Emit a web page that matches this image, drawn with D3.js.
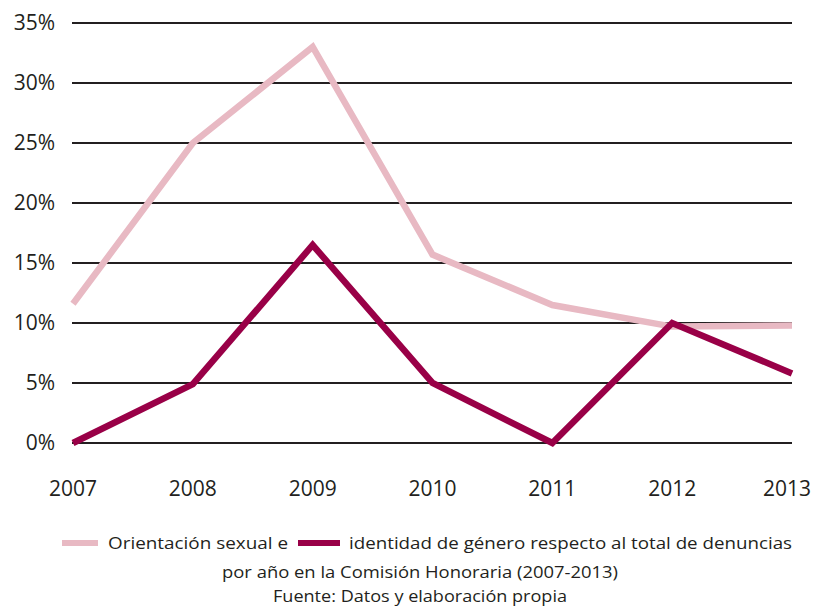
<!DOCTYPE html>
<html>
<head>
<meta charset="utf-8">
<script src="https://d3js.org/d3.v7.min.js"></script>
<style>
  body { margin: 0; background: #fff; }
  text { font-family: "Open Sans", sans-serif; fill: #231f20; }
</style>
</head>
<body>
<div id="chart"></div>
<script>
const years = ["2007","2008","2009","2010","2011","2012","2013"];
const orientacion = [11.6, 25.0, 33.0, 15.7, 11.5, 9.7, 9.8];
const identidad = [0, 4.9, 16.5, 5.0, 0, 10.0, 5.8];
const yTicks = [0, 5, 10, 15, 20, 25, 30, 35];
const legendLabels = ["Orientación sexual e", "identidad de género respecto al total de denuncias"];
const captionLines = ["por año en la Comisión Honoraria (2007-2013)", "Fuente: Datos y elaboración propia"];

const width = 814, height = 608;
const margin = {top: 23, right: 22, bottom: 165, left: 73};

const svg = d3.select("#chart").append("svg")
  .attr("width", width)
  .attr("height", height);

const x = d3.scalePoint()
  .domain(years)
  .range([margin.left, width - margin.right]);

const y = d3.scaleLinear()
  .domain([0, 35])
  .range([height - margin.bottom, margin.top]);

// gridlines
svg.append("g")
  .selectAll("line")
  .data(yTicks)
  .enter().append("line")
    .attr("x1", margin.left - 1)
    .attr("x2", width - margin.right)
    .attr("y1", d => y(d))
    .attr("y2", d => y(d))
    .attr("stroke", "#231f20")
    .attr("stroke-width", 2);

// y labels
svg.append("g")
  .selectAll("text")
  .data(yTicks)
  .enter().append("text")
    .attr("x", 55)
    .attr("y", d => y(d) + 7)
    .attr("text-anchor", "end")
    .style("font-size", "21px")
    .text(d => d + "%");

// x labels (last one kept inside the right edge)
svg.append("g")
  .selectAll("text")
  .data(years)
  .enter().append("text")
    .attr("x", (d, i) => i === years.length - 1 ? width - 3 : x(d))
    .attr("y", 496)
    .attr("text-anchor", (d, i) => i === years.length - 1 ? "end" : "middle")
    .style("font-size", "21px")
    .text(d => d);

const line = d3.line()
  .x((d, i) => x(years[i]))
  .y(d => y(d));

svg.append("path")
  .datum(orientacion)
  .attr("fill", "none")
  .attr("stroke", "#e8b9c3")
  .attr("stroke-width", 6.5)
  .attr("d", line);

svg.append("path")
  .datum(identidad)
  .attr("fill", "none")
  .attr("stroke", "#990047")
  .attr("stroke-width", 6.5)
  .attr("d", line);

// legend
const legY = 543;
svg.append("line")
  .attr("x1", 62).attr("x2", 98)
  .attr("y1", legY).attr("y2", legY)
  .attr("stroke", "#e8b9c3").attr("stroke-width", 6);
svg.append("text")
  .attr("x", 108).attr("y", legY + 6)
  .style("font-size", "17px")
  .attr("textLength", 180).attr("lengthAdjust", "spacingAndGlyphs")
  .text(legendLabels[0]);
svg.append("line")
  .attr("x1", 298).attr("x2", 340)
  .attr("y1", legY).attr("y2", legY)
  .attr("stroke", "#990047").attr("stroke-width", 6);
svg.append("text")
  .attr("x", 349).attr("y", legY + 6)
  .style("font-size", "17px")
  .attr("textLength", 443).attr("lengthAdjust", "spacingAndGlyphs")
  .text(legendLabels[1]);

svg.append("g")
  .selectAll("text")
  .data(captionLines)
  .enter().append("text")
    .attr("x", 420)
    .attr("y", (d, i) => 578 + i * 24)
    .attr("text-anchor", "middle")
    .style("font-size", "17px")
    .attr("textLength", (d, i) => i === 0 ? 396 : 294)
    .attr("lengthAdjust", "spacingAndGlyphs")
    .text(d => d);
</script>
</body>
</html>
